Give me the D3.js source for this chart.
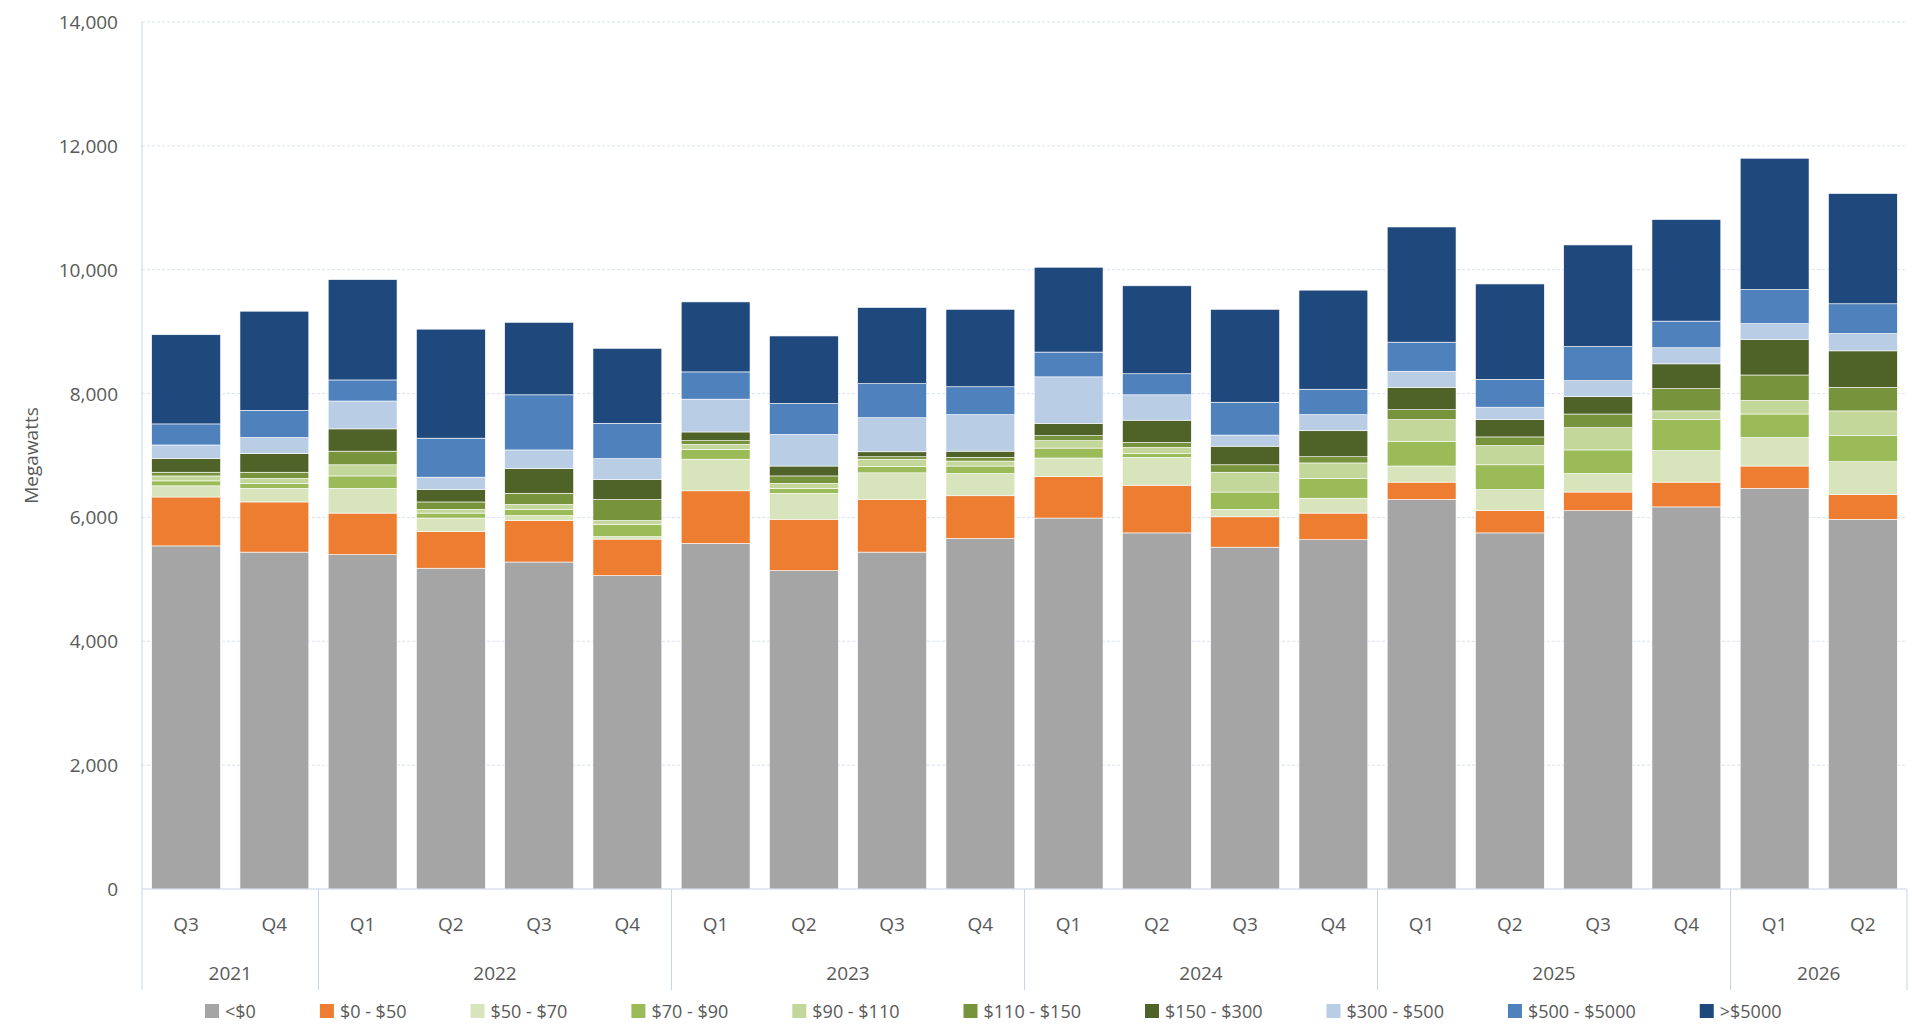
<!DOCTYPE html>
<html>
<head>
<meta charset="utf-8">
<script src="https://cdn.jsdelivr.net/npm/d3@7"></script>
<style>
  body { margin: 0; background: #fff; font-family: "Open Sans", "Noto Sans", sans-serif; }
  text { fill: #595959; }
</style>
</head>
<body>
<script>
const quarters = ["Q3","Q4","Q1","Q2","Q3","Q4","Q1","Q2","Q3","Q4","Q1","Q2","Q3","Q4","Q1","Q2","Q3","Q4","Q1","Q2"];
const years = [["2021",2],["2022",4],["2023",4],["2024",4],["2025",4],["2026",2]];
const seriesNames = ["<$0","$0 - $50","$50 - $70","$70 - $90","$90 - $110","$110 - $150","$150 - $300","$300 - $500","$500 - $5000",">$5000"];
const colors = ["#a5a5a5","#ed7d31","#d8e4bc","#9bbb59","#c4d79b","#77933c","#4f6228","#b9cde5","#4f81bd","#1f497d"];

const below0   = [5540,5440,5400,5180,5280,5060,5580,5140,5440,5660,5990,5750,5520,5640,6290,5750,6110,6170,6470,5970];
const p0_50    = [790,810,670,590,670,590,850,830,850,690,670,770,490,430,280,360,300,400,360,400];
const p50_70   = [180,220,400,220,80,40,510,420,430,360,300,450,120,240,260,340,300,510,460,530];
const p70_90   = [80,80,200,80,100,200,160,80,100,120,160,60,280,320,400,400,380,500,380,420];
const p90_110  = [80,80,180,60,80,60,80,80,120,80,120,100,320,250,350,310,360,140,220,400];
const p110_150 = [60,100,220,120,180,340,60,120,40,60,80,80,120,100,160,140,220,360,410,380];
const p150_300 = [220,300,360,200,400,320,140,160,80,100,200,360,300,420,360,280,280,400,570,590];
const p300_500 = [220,260,450,200,300,340,530,510,550,590,750,410,180,260,260,200,260,260,260,280];
const p500_5000= [340,440,340,630,890,570,440,500,550,450,400,340,530,410,470,450,550,430,550,480];
const above5000= [1440,1600,1620,1760,1170,1210,1130,1090,1230,1250,1370,1420,1500,1600,1860,1540,1640,1640,2120,1780];
const seriesValues = [below0,p0_50,p50_70,p70_90,p90_110,p110_150,p150_300,p300_500,p500_5000,above5000];

const W = 1912, H = 1031;
const mLeft = 142, mRight = 1907, mTop = 22, mBottom = 889;

const svg = d3.select("body").append("svg").attr("width", W).attr("height", H);

const rows = quarters.map((q, i) => {
  const r = { i: i };
  seriesNames.forEach((s, k) => r[s] = seriesValues[k][i]);
  return r;
});
const stacked = d3.stack().keys(seriesNames)(rows);

const x = d3.scaleBand().domain(d3.range(quarters.length)).range([mLeft, mRight]).paddingInner(0.22).paddingOuter(0.11);
const y = d3.scaleLinear().domain([0, 14000]).range([mBottom, mTop]);

// gridlines
svg.append("g").selectAll("line").data(y.ticks(7).slice(1)).enter().append("line")
  .attr("x1", mLeft).attr("x2", mRight).attr("y1", d => y(d)).attr("y2", d => y(d))
  .attr("stroke", "#d9e1f2").attr("stroke-dasharray", "3,2");

// y axis labels
svg.append("g").selectAll("text").data(y.ticks(7)).enter().append("text")
  .attr("x", mLeft - 24).attr("y", d => y(d) + 7).attr("text-anchor", "end")
  .style("font-size", "19px").text(d3.format(","));

svg.append("text").attr("transform", `translate(38,${(mTop + mBottom) / 2}) rotate(-90)`)
  .attr("text-anchor", "middle").style("font-size", "19px").text("Megawatts");

// bars
svg.append("g").selectAll("g").data(stacked).enter().append("g")
  .attr("fill", (d, k) => colors[k])
  .selectAll("rect").data(d => d).enter().append("rect")
  .attr("x", d => x(d.data.i)).attr("width", x.bandwidth())
  .attr("y", d => y(d[1])).attr("height", d => y(d[0]) - y(d[1]))
  .attr("stroke", "#fff").attr("stroke-width", 0.6);

// category axis
const axisBottom = 990;
const axisColor = "#c5d3ea";
svg.append("line").attr("x1", mLeft).attr("x2", mRight).attr("y1", mBottom).attr("y2", mBottom).attr("stroke", axisColor);
svg.append("line").attr("x1", mLeft).attr("x2", mLeft).attr("y1", mTop).attr("y2", axisBottom).attr("stroke", axisColor);

svg.append("g").selectAll("text").data(quarters).enter().append("text")
  .attr("x", (d, i) => x(i) + x.bandwidth() / 2).attr("y", 931)
  .attr("text-anchor", "middle").style("font-size", "19px").text(d => d);

const step = x.step();
let start = 0;
years.forEach(([yr, n]) => {
  const x0 = x(start) - (step - x.bandwidth()) / 2;
  const x1 = start + n >= quarters.length ? mRight : x(start + n) - (step - x.bandwidth()) / 2;
  svg.append("line").attr("x1", x1).attr("x2", x1).attr("y1", mBottom).attr("y2", axisBottom).attr("stroke", axisColor);
  svg.append("text").attr("x", (Math.max(x0, mLeft) + x1) / 2).attr("y", 980)
    .attr("text-anchor", "middle").style("font-size", "19px").text(yr);
  start += n;
});

// legend
const legend = svg.append("g");
let lx = 205;
seriesNames.forEach((s, k) => {
  legend.append("rect").attr("x", lx).attr("y", 1004).attr("width", 14).attr("height", 14).attr("fill", colors[k]);
  const t = legend.append("text").attr("x", lx + 20).attr("y", 1018).style("font-size", "18px").text(s);
  lx += 20 + t.node().getComputedTextLength() + 64;
});
</script>
</body>
</html>
